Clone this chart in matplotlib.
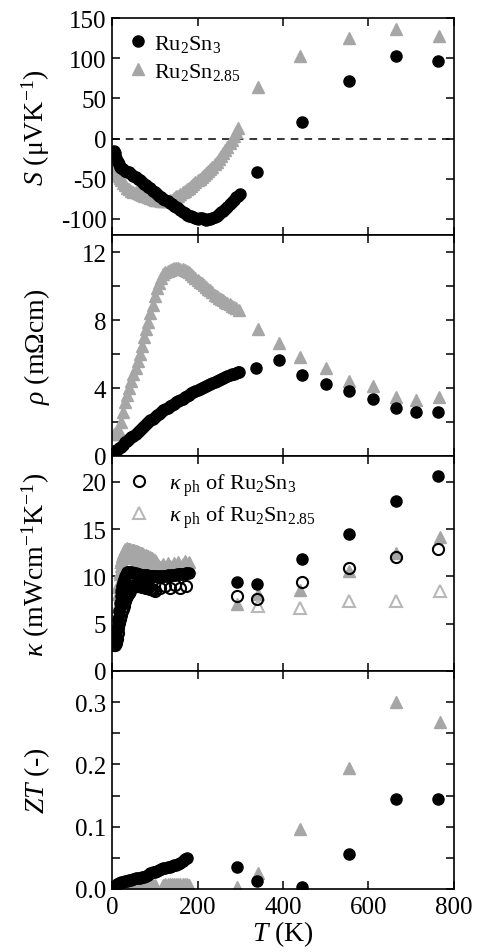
import matplotlib
matplotlib.use("Agg")
import matplotlib.pyplot as plt
from matplotlib.lines import Line2D
from matplotlib.ticker import MultipleLocator, FormatStrFormatter

plt.rcParams['font.family'] = ['Liberation Serif', 'DejaVu Serif']
plt.rcParams['mathtext.fontset'] = 'custom'
plt.rcParams['mathtext.rm'] = 'Liberation Serif'
plt.rcParams['mathtext.it'] = 'Liberation Serif:italic'
plt.rcParams['axes.unicode_minus'] = False

# ---------------- data ----------------
# Seebeck coefficient S (uV/K)
S_A_lowT_T = [5, 7, 10, 13, 16, 19, 22, 25, 30, 35, 40, 45, 50, 55, 60, 65, 70, 75, 80, 85, 90, 95, 100,
              105, 110, 115, 120, 125, 130, 135, 140, 145, 150, 155, 160, 165, 170, 175, 180, 185, 190,
              195, 200, 205, 210, 215, 220, 225, 230, 235, 240, 245, 250, 255, 260, 265, 270, 275, 280,
              285, 290, 295, 300]
S_A_lowT = [-16, -18, -24, -29, -32, -35, -37, -38, -40, -41, -42, -44, -46, -48, -50, -52, -54, -56, -58,
            -60, -62, -65, -67, -69, -71, -73, -75, -76, -78, -80, -82, -84, -85, -87, -89, -91, -93, -95,
            -96, -96, -97, -99, -100, -99, -99, -100, -101, -100, -100, -99, -98, -96, -94, -92, -90, -88,
            -85, -82, -79, -76, -73, -71, -69]
S_B_lowT_T = [4, 6, 8, 10, 12, 14, 16, 18, 20, 25, 30, 35, 40, 45, 50, 55, 60, 65, 70, 75, 80, 85, 90, 95,
              100, 105, 110, 115, 120, 125, 130, 135, 140, 145, 150, 155, 160, 165, 170, 175, 180, 185,
              190, 195, 200, 205, 210, 215, 220, 225, 230, 235, 240, 245, 250, 255, 260, 265, 270, 275,
              280, 285, 290, 295]
S_B_lowT = [-28, -32, -36, -39, -42, -44, -47, -49, -51, -55, -58, -61, -63, -65, -66, -67, -68, -69, -70,
            -71, -72, -73, -74, -75, -76, -77, -77, -78, -78, -78, -78, -77, -76, -74, -72, -71, -69, -67,
            -65, -63, -61, -59, -56, -54, -52, -50, -48, -45, -43, -40, -38, -35, -32, -29, -25, -22, -18,
            -14, -10, -6, -2, 3, 8, 13]
S_A_highT_T = [339, 445, 555, 664, 763]
S_A_highT = [-41, 21, 72, 103, 96]
S_B_highT_T = [342, 440, 555, 664, 766]
S_B_highT = [64, 103, 125, 136, 128]

# Resistivity rho (mOhm cm)
rho_A_lowT_T = [4, 8, 12, 16, 20, 25, 30, 35, 40, 45, 50, 55, 60, 65, 70, 75, 80, 85, 90, 95, 100, 105,
                110, 115, 120, 125, 130, 135, 140, 145, 150, 155, 160, 165, 170, 175, 180, 185, 190, 195,
                200, 205, 210, 215, 220, 225, 230, 235, 240, 245, 250, 255, 260, 265, 270, 275, 280, 285,
                290, 295, 298]
rho_A_lowT = [0.3, 0.32, 0.38, 0.45, 0.55, 0.67, 0.8, 0.9, 1.0, 1.1, 1.2, 1.3, 1.4, 1.52, 1.65, 1.77, 1.9,
              2.0, 2.1, 2.2, 2.3, 2.4, 2.5, 2.6, 2.7, 2.78, 2.85, 2.93, 3.0, 3.08, 3.15, 3.23, 3.3, 3.38,
              3.45, 3.53, 3.6, 3.68, 3.75, 3.82, 3.88, 3.94, 4.0, 4.06, 4.12, 4.19, 4.25, 4.3, 4.36, 4.42,
              4.48, 4.54, 4.6, 4.65, 4.7, 4.75, 4.8, 4.85, 4.9, 4.95, 4.97]
rho_B_lowT_T = [4, 8, 12, 16, 20, 25, 30, 35, 40, 45, 50, 55, 60, 65, 70, 75, 80, 85, 90, 95, 100, 105,
                110, 115, 120, 125, 130, 135, 140, 145, 150, 155, 160, 165, 170, 175, 180, 185, 190, 195,
                200, 205, 210, 215, 220, 225, 230, 235, 240, 245, 250, 255, 260, 265, 270, 275, 280, 285,
                290, 296]
rho_B_lowT = [1.3, 1.3, 1.35, 1.5, 2.0, 2.6, 3.2, 3.6, 4.0, 4.4, 4.8, 5.2, 5.6, 6.0, 6.5, 7.0, 7.5, 7.9,
              8.4, 8.9, 9.4, 9.9, 10.2, 10.5, 10.7, 10.8, 10.9, 10.95, 11.0, 11.03, 11.05, 11.05, 11.0,
              10.98, 10.95, 10.88, 10.8, 10.7, 10.6, 10.48, 10.35, 10.25, 10.15, 10.05, 9.95, 9.85, 9.75,
              9.62, 9.5, 9.4, 9.3, 9.22, 9.15, 9.08, 9.0, 8.92, 8.85, 8.78, 8.7, 8.6]
rho_A_highT_T = [338, 391, 445, 500, 555, 611, 664, 711, 763]
rho_A_highT = [5.15, 5.65, 4.75, 4.25, 3.8, 3.35, 2.84, 2.56, 2.56]
rho_B_highT_T = [342, 391, 439, 500, 555, 611, 664, 711, 766]
rho_B_highT = [7.5, 6.65, 5.85, 5.15, 4.4, 4.1, 3.45, 3.3, 3.45]

# Thermal conductivity kappa (mW/cm/K)
kap_A_lowT_T = [4, 6, 8, 10, 12, 14, 16, 18, 20, 22, 24, 26, 28, 30, 32, 34, 36, 38, 40, 43, 46, 49, 52,
                55, 58, 61, 64, 67, 70, 73, 76, 79, 82, 85, 88, 91, 94, 97, 100, 104, 108, 112, 116, 120,
                124, 128, 132, 136, 140, 144, 148, 152, 156, 160, 164, 168, 172, 176, 180]
kap_A_lowT = [3.0, 3.1, 3.3, 3.8, 4.6, 5.5, 6.4, 7.2, 7.9, 8.5, 9.0, 9.4, 9.75, 10.0, 10.2, 10.35, 10.45,
              10.5, 10.5, 10.5, 10.45, 10.4, 10.4, 10.35, 10.3, 10.3, 10.25, 10.2, 10.2, 10.18, 10.15,
              10.15, 10.12, 10.1, 10.1, 10.08, 10.05, 10.03, 10.0, 10.0, 10.0, 10.0, 10.05, 10.1, 10.1,
              10.1, 10.12, 10.15, 10.2, 10.2, 10.2, 10.22, 10.25, 10.3, 10.3, 10.3, 10.32, 10.35, 10.4]
kapph_A_lowT_T = [5, 7, 9, 11, 13, 15, 17, 19, 21, 23, 25, 27, 29, 31, 33, 35, 37, 39, 41, 43, 45, 47, 49,
                  52, 55, 58, 61, 64, 67, 70, 73, 76, 79, 82, 85, 88, 91, 94, 97, 100, 112, 124, 136, 148,
                  160, 172]
kapph_A_lowT = [2.7, 2.8, 3.0, 3.4, 4.0, 4.6, 5.1, 5.5, 5.9, 6.3, 6.6, 6.9, 7.2, 7.4, 7.7, 7.9, 8.1, 8.3,
                8.5, 8.65, 8.8, 8.9, 9.0, 9.05, 9.05, 9.0, 9.0, 9.0, 8.95, 8.9, 8.9, 8.85, 8.8, 8.8, 8.75,
                8.7, 8.7, 8.65, 8.6, 8.5, 8.8, 9.0, 8.8, 9.1, 8.8, 9.0]
kap_B_lowT_T = [4, 6, 8, 10, 12, 14, 16, 18, 20, 22, 24, 26, 28, 31, 34, 37, 40, 43, 46, 49, 52, 55, 58,
                61, 64, 67, 70, 73, 76, 79, 82, 85, 88, 91, 94, 97, 100, 104, 108, 112, 116, 120, 125,
                130, 135, 140, 145, 150, 155, 160, 165, 170, 175, 180]
kap_B_lowT = [3.5, 3.8, 4.4, 5.5, 6.8, 8.1, 9.3, 10.3, 11.1, 11.7, 12.2, 12.5, 12.7, 12.9, 13.0, 12.95,
              12.9, 12.9, 12.85, 12.8, 12.8, 12.75, 12.7, 12.6, 12.55, 12.5, 12.45, 12.4, 12.3, 12.25,
              12.2, 12.15, 12.1, 12.0, 11.95, 11.85, 11.75, 11.5, 11.2, 11.0, 11.1, 11.3, 11.0, 11.4,
              11.1, 11.0, 11.4, 11.1, 11.5, 11.1, 11.3, 11.6, 11.2, 11.5]
kapph_B_lowT_T = [4, 8, 12, 16, 20, 24, 28, 32, 36, 40, 45, 50, 55, 60, 65, 70, 75, 80, 85, 90, 95, 100,
                  105, 110, 120, 130, 140, 150, 160, 170, 180]
kapph_B_lowT = [3.4, 4.2, 6.5, 8.9, 10.5, 11.5, 12.0, 12.2, 12.3, 12.3, 12.2, 12.1, 12.0, 11.9, 11.8,
                11.7, 11.6, 11.5, 11.4, 11.3, 11.2, 11.1, 10.9, 10.8, 10.8, 10.9, 10.8, 10.9, 11.0, 10.9,
                11.0]
kap_A_highT_T = [293, 339, 445, 555, 664, 763]
kap_A_highT = [9.4, 9.2, 11.8, 14.5, 17.95, 20.6]
kapph_A_highT = [7.9, 7.6, 9.45, 10.85, 12.05, 12.9]
kap_B_highT_T = [293, 342, 440, 555, 664, 767]
kap_B_highT = [7.1, 8.15, 8.6, 10.6, 12.5, 14.2]
kapph_B_highT_T = [342, 440, 555, 664, 767]
kapph_B_highT = [6.9, 6.7, 7.45, 7.45, 8.45]

# Figure of merit ZT
ZT_A_lowT_T = [4, 8, 12, 16, 20, 25, 30, 35, 40, 45, 50, 55, 60, 65, 70, 75, 80, 85, 90, 95, 100, 105,
               110, 115, 120, 125, 130, 135, 140, 145, 150, 155, 160, 165, 170, 175]
ZT_A_lowT = [0.003, 0.005, 0.008, 0.010, 0.011, 0.012, 0.013, 0.013, 0.014, 0.015, 0.016, 0.017, 0.017,
             0.018, 0.019, 0.020, 0.021, 0.023, 0.025, 0.027, 0.028, 0.029, 0.030, 0.032, 0.033, 0.034,
             0.035, 0.036, 0.037, 0.038, 0.039, 0.040, 0.042, 0.045, 0.048, 0.049]
ZT_B_lowT_T = [5, 10, 15, 20, 25, 30, 35, 40, 45, 50, 55, 60, 65, 70, 75, 80, 85, 90, 95, 100,
               120, 125, 130, 135, 140, 145, 150, 155, 160, 165, 170, 175, 180]
ZT_B_lowT = [0.0, 0.001, 0.001, 0.002, 0.002, 0.003, 0.003, 0.004, 0.004, 0.004, 0.005, 0.005, 0.005,
             0.005, 0.006, 0.006, 0.007, 0.007, 0.007, 0.006,
             0.007, 0.008, 0.008, 0.008, 0.008, 0.008, 0.008, 0.008, 0.008, 0.008, 0.008, 0.008, 0.007]
ZT_A_highT_T = [292, 339, 445, 555, 664, 763]
ZT_A_highT = [0.036, 0.013, 0.004, 0.056, 0.145, 0.145]
ZT_B_highT_T = [292, 342, 440, 555, 664, 767]
ZT_B_highT = [0.004, 0.026, 0.096, 0.194, 0.300, 0.268]

x_ticks = [0, 200, 400, 600, 800]
label_A = r'Ru$_2$Sn$_3$'
label_B = r'Ru$_2$Sn$_{2.85}$'
label_phA = r'$\kappa_{\ \rm ph}$ of Ru$_2$Sn$_3$'
label_phB = r'$\kappa_{\ \rm ph}$ of Ru$_2$Sn$_{2.85}$'

# ---------------- styles ----------------
BLACK = '#000000'
GRAY = '#a6a6a6'
LGRAY = '#b8b8b8'
MS_C = 8
MS_T = 8.5

fig = plt.figure(figsize=(4.78, 9.53), dpi=100)
gs = fig.add_gridspec(4, 1, left=112/478, right=454/478, top=1-19/953, bottom=1-890/953,
                      hspace=0, height_ratios=[217, 221, 215, 218])
axes = [fig.add_subplot(gs[i]) for i in range(4)]

def circ(ax, x, y, **kw):
    ax.plot(x, y, ls='none', marker='o', ms=MS_C, mfc=BLACK, mec=BLACK, **kw)

def tri(ax, x, y, **kw):
    ax.plot(x, y, ls='none', marker='^', ms=MS_T, mfc=GRAY, mec=GRAY, **kw)

# Panel 1: S
ax = axes[0]
ax.axhline(0, color='black', ls=(0, (5, 4)), lw=1.1, zorder=1)
tri(ax, S_B_lowT_T, S_B_lowT)
tri(ax, S_B_highT_T, S_B_highT)
circ(ax, S_A_lowT_T, S_A_lowT)
circ(ax, S_A_highT_T, S_A_highT)
ax.set_ylim(-120, 150)
ax.yaxis.set_major_locator(MultipleLocator(50))
ax.set_ylabel(r'$S$ (μVK$^{-1}$)')
h = [Line2D([], [], ls='none', marker='o', ms=MS_C, mfc=BLACK, mec=BLACK),
     Line2D([], [], ls='none', marker='^', ms=MS_T, mfc=GRAY, mec=GRAY)]
ax.legend(h, [label_A, label_B], loc='upper left', bbox_to_anchor=(0.047, 0.93), frameon=False,
          fontsize=16, handlelength=0.9, handletextpad=0.25, labelspacing=0.3, borderaxespad=0,
          borderpad=0)

# Panel 2: rho
ax = axes[1]
tri(ax, rho_B_lowT_T, rho_B_lowT)
tri(ax, rho_B_highT_T, rho_B_highT)
circ(ax, rho_A_lowT_T, rho_A_lowT)
circ(ax, rho_A_highT_T, rho_A_highT)
ax.set_ylim(0, 13)
ax.yaxis.set_major_locator(MultipleLocator(4))
ax.yaxis.set_minor_locator(MultipleLocator(2))
ax.set_ylabel(r'$\rho$ (mΩcm)')

# Panel 3: kappa
ax = axes[2]
tri(ax, kap_B_lowT_T, kap_B_lowT)
ax.plot(kapph_B_lowT_T, kapph_B_lowT, ls='none', marker='^', ms=MS_T, mfc='none', mec=GRAY, mew=1.5)
tri(ax, kap_B_highT_T, kap_B_highT)
ax.plot(kapph_B_highT_T, kapph_B_highT, ls='none', marker='^', ms=MS_T, mfc='none', mec=LGRAY, mew=1.5)
circ(ax, kap_A_lowT_T, kap_A_lowT)
circ(ax, kap_A_highT_T, kap_A_highT)
ax.plot(kapph_A_lowT_T, kapph_A_lowT, ls='none', marker='o', ms=MS_C, mfc='none', mec=BLACK, mew=1.5)
ax.plot(kap_A_highT_T, kapph_A_highT, ls='none', marker='o', ms=MS_C, mfc='none', mec=BLACK, mew=1.5)
ax.set_ylim(0, 22.75)
ax.yaxis.set_major_locator(MultipleLocator(5))
ax.set_ylabel(r'$\kappa$ (mWcm$^{-1}$K$^{-1}$)')
h = [Line2D([], [], ls='none', marker='o', ms=MS_C, mfc='none', mec=BLACK, mew=1.5),
     Line2D([], [], ls='none', marker='^', ms=MS_T, mfc='none', mec=LGRAY, mew=1.5)]
ax.legend(h, [label_phA, label_phB], loc='upper left', bbox_to_anchor=(0.05, 0.93), frameon=False,
          fontsize=16, handlelength=0.9, handletextpad=0.9, labelspacing=0.25, borderaxespad=0,
          borderpad=0)

# Panel 4: ZT
ax = axes[3]
tri(ax, ZT_B_lowT_T, ZT_B_lowT)
tri(ax, ZT_B_highT_T, ZT_B_highT)
circ(ax, ZT_A_lowT_T, ZT_A_lowT)
circ(ax, ZT_A_highT_T, ZT_A_highT)
ax.set_ylim(0, 0.35)
ax.yaxis.set_major_locator(MultipleLocator(0.1))
ax.yaxis.set_minor_locator(MultipleLocator(0.05))
ax.yaxis.set_major_formatter(FormatStrFormatter('%.1f'))
ax.set_ylabel(r'$ZT$ (-)')
ax.set_xlabel(r'$T$ (K)', fontsize=20, labelpad=0)

for i, ax in enumerate(axes):
    ax.set_xlim(0, 800)
    ax.set_xticks(x_ticks)
    ax.tick_params(which='both', direction='in', top=True, right=True, length=6, width=1.1,
                   labelsize=18)
    ax.tick_params(axis='y', pad=4)
    ax.tick_params(axis='x', pad=5)
    if i < 3:
        ax.tick_params(axis='x', labelbottom=False)
    for sp in ax.spines.values():
        sp.set_linewidth(1.2)
    ax.yaxis.label.set_fontsize(20)
    ax.yaxis.set_label_coords(-0.175, 0.5)

fig.savefig('out.png', dpi=100)
